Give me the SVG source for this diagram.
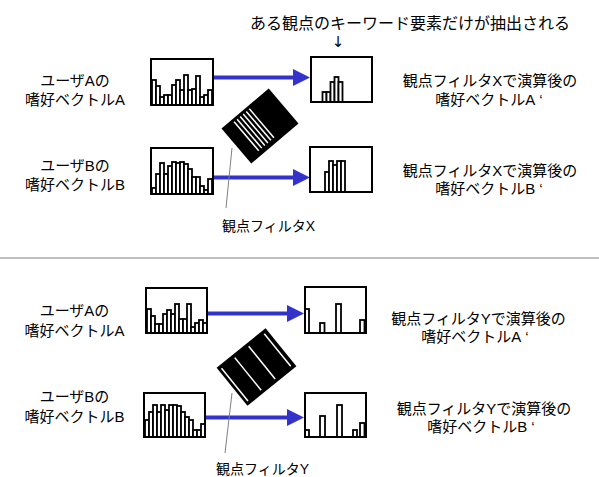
<svg xmlns="http://www.w3.org/2000/svg" width="599" height="477" viewBox="0 0 599 477">
<style>
text{font-family:"Liberation Sans","Noto Sans CJK JP",sans-serif;fill:#000}
.lbl{font-size:15px;text-anchor:middle}
.cap{font-size:16px}
.flt{font-size:14px}
.box{fill:none;stroke:#000;stroke-width:2}
.bg{fill:#fff}
.bar{fill:#fff;stroke:#000;stroke-width:1.8}
.arr{stroke:#3333cc;stroke-width:4;fill:none;marker-end:url(#ah)}
.lead{stroke:#808080;stroke-width:1;fill:none}
.stripe{stroke:#fff;stroke-width:1.5}
</style>
<defs>
<marker id="ah" markerUnits="userSpaceOnUse" markerWidth="17" markerHeight="18" refX="9" refY="8.5" orient="auto">
<path d="M0,0 L17,8.5 L0,17 Z" fill="#3333cc"/>
</marker>
</defs>
<rect width="599" height="477" fill="#fff"/>

<g id="caption">
<text class="cap" x="250" y="28.5">ある観点のキーワード要素だけが抽出される</text>
<text x="338" y="47" text-anchor="middle" style="font-family:'DejaVu Sans',sans-serif;font-size:15px;fill:#000">↓</text>
</g>

<line id="separator" x1="0" y1="258" x2="599" y2="258" stroke="#808080" stroke-width="1"/>

<g id="connectors">
<line class="arr" x1="213" y1="77.5" x2="302" y2="77.5"/>
<line class="arr" x1="213" y1="177.5" x2="302" y2="177.5"/>
<line class="arr" x1="207" y1="313.5" x2="296" y2="313.5"/>
<line class="arr" x1="205" y1="417.5" x2="296" y2="417.5"/>
<line class="lead" x1="232" y1="148" x2="226" y2="208"/>
<line class="lead" x1="232" y1="393" x2="225" y2="453"/>
</g>

<!-- top section -->
<g id="labelA1"><text class="lbl" x="75" y="85.5">ユーザAの</text><text class="lbl" x="75" y="104.5">嗜好ベクトルA</text></g>
<g id="labelB1"><text class="lbl" x="75" y="170.5">ユーザBの</text><text class="lbl" x="75" y="189.5">嗜好ベクトルB</text></g>
<g id="labelA1out"><text class="lbl" x="490" y="85.5">観点フィルタXで演算後の</text><text class="lbl" x="489" y="104.5">嗜好ベクトルA<tspan dx="4">‘</tspan></text></g>
<g id="labelB1out"><text class="lbl" x="490" y="175.5">観点フィルタXで演算後の</text><text class="lbl" x="489" y="194">嗜好ベクトルB<tspan dx="4">‘</tspan></text></g>

<g id="histA1" transform="translate(151,105)">
<rect class="bg" x="0" y="-46" width="62" height="46"/>
<rect class="bar" x="1" y="-25" width="4" height="25"/>
<rect class="bar" x="5" y="-19" width="4" height="19"/>
<rect class="bar" x="9" y="-8" width="4" height="8"/>
<rect class="bar" x="13" y="-10" width="4" height="10"/>
<rect class="bar" x="17" y="-10" width="4" height="10"/>
<rect class="bar" x="21" y="-20" width="4" height="20"/>
<rect class="bar" x="25" y="-25" width="4" height="25"/>
<rect class="bar" x="29" y="-15" width="4" height="15"/>
<rect class="bar" x="33" y="-30" width="4" height="30"/>
<rect class="bar" x="37" y="-15" width="4" height="15"/>
<rect class="bar" x="41" y="-16" width="4" height="16"/>
<rect class="bar" x="45" y="-29" width="4" height="29"/>
<rect class="bar" x="49" y="-8" width="4" height="8"/>
<rect class="bar" x="53" y="-10" width="4" height="10"/>
<rect class="bar" x="57" y="-15" width="4" height="15"/>
<rect class="box" x="0" y="-46" width="62" height="46"/>
</g>

<g id="histB1" transform="translate(151,194)">
<rect class="bg" x="0" y="-46" width="62" height="46"/>
<rect class="bar" x="1" y="-6" width="4" height="6"/>
<rect class="bar" x="5" y="-20" width="4" height="20"/>
<rect class="bar" x="9" y="-31" width="4" height="31"/>
<rect class="bar" x="13" y="-20" width="4" height="20"/>
<rect class="bar" x="17" y="-28" width="4" height="28"/>
<rect class="bar" x="21" y="-32" width="4" height="32"/>
<rect class="bar" x="25" y="-31" width="4" height="31"/>
<rect class="bar" x="29" y="-32" width="4" height="32"/>
<rect class="bar" x="33" y="-30" width="4" height="30"/>
<rect class="bar" x="37" y="-25" width="4" height="25"/>
<rect class="bar" x="41" y="-17" width="4" height="17"/>
<rect class="bar" x="45" y="-17" width="4" height="17"/>
<rect class="bar" x="49" y="-8" width="4" height="8"/>
<rect class="bar" x="53" y="-4" width="4" height="4"/>
<rect class="bar" x="57" y="-15" width="4" height="15"/>
<rect class="box" x="0" y="-46" width="62" height="46"/>
</g>

<g id="histA1out" transform="translate(311,102)">
<rect class="bg" x="0" y="-45" width="61" height="45"/>
<rect class="bar" x="11.5" y="-10" width="4" height="10"/>
<rect class="bar" x="15.5" y="-10" width="4" height="10"/>
<rect class="bar" x="19.5" y="-20" width="4" height="20"/>
<rect class="bar" x="23.5" y="-25" width="4" height="25"/>
<rect class="bar" x="27.5" y="-20" width="4" height="20"/>
<rect class="box" x="0" y="-45" width="61" height="45"/>
</g>

<g id="histB1out" transform="translate(310,192)">
<rect class="bg" x="0" y="-45" width="62" height="45"/>
<rect class="bar" x="15" y="-20" width="4" height="20"/>
<rect class="bar" x="19" y="-31" width="4" height="31"/>
<rect class="bar" x="23" y="-27" width="4" height="27"/>
<rect class="bar" x="27" y="-31" width="4" height="31"/>
<rect class="bar" x="31" y="-31" width="4" height="31"/>
<rect class="box" x="0" y="-45" width="62" height="45"/>
</g>

<g id="filterX" transform="translate(260,126) rotate(-40.4)">
<rect x="-31" y="-23" width="62" height="46" fill="#000"/>
<line class="stripe" x1="-17" y1="-20" x2="-17" y2="18"/>
<line class="stripe" x1="-13" y1="-20" x2="-13" y2="18"/>
<line class="stripe" x1="-9" y1="-20" x2="-9" y2="18"/>
<line class="stripe" x1="-5" y1="-20" x2="-5" y2="18"/>
<line class="stripe" x1="-1" y1="-20" x2="-1" y2="18"/>
<line class="stripe" x1="3" y1="-20" x2="3" y2="18"/>
</g>
<g id="labelFilterX"><text class="flt" x="222" y="230.5">観点フィルタX</text></g>

<!-- bottom section -->
<g id="labelA2"><text class="lbl" x="74.5" y="315.5">ユーザAの</text><text class="lbl" x="74.5" y="335.5">嗜好ベクトルA</text></g>
<g id="labelB2"><text class="lbl" x="74.5" y="401.5">ユーザBの</text><text class="lbl" x="74.5" y="421.5">嗜好ベクトルB</text></g>
<g id="labelA2out"><text class="lbl" x="478.5" y="323.5">観点フィルタYで演算後の</text><text class="lbl" x="475" y="341.5">嗜好ベクトルA<tspan dx="4">‘</tspan></text></g>
<g id="labelB2out"><text class="lbl" x="484" y="413.5">観点フィルタYで演算後の</text><text class="lbl" x="481" y="431.5">嗜好ベクトルB<tspan dx="4">‘</tspan></text></g>

<g id="histA2" transform="translate(146,333)">
<rect class="bg" x="0" y="-45" width="61" height="45"/>
<rect class="bar" x="1" y="-24" width="4" height="24"/>
<rect class="bar" x="5" y="-17" width="4" height="17"/>
<rect class="bar" x="9" y="-9" width="4" height="9"/>
<rect class="bar" x="13" y="-9" width="4" height="9"/>
<rect class="bar" x="17" y="-19" width="4" height="19"/>
<rect class="bar" x="21" y="-23" width="4" height="23"/>
<rect class="bar" x="25" y="-19" width="4" height="19"/>
<rect class="bar" x="29" y="-29" width="4" height="29"/>
<rect class="bar" x="33" y="-14" width="4" height="14"/>
<rect class="bar" x="37" y="-14" width="4" height="14"/>
<rect class="bar" x="41" y="-29" width="4" height="29"/>
<rect class="bar" x="45" y="-6" width="4" height="6"/>
<rect class="bar" x="49" y="-10" width="4" height="10"/>
<rect class="bar" x="53" y="-13" width="4" height="13"/>
<rect class="bar" x="57" y="-10" width="4" height="10"/>
<rect class="box" x="0" y="-45" width="61" height="45"/>
</g>

<g id="histB2" transform="translate(144,437)">
<rect class="bg" x="0" y="-44" width="61" height="44"/>
<rect class="bar" x="1" y="-17" width="4" height="17"/>
<rect class="bar" x="5" y="-25" width="4" height="25"/>
<rect class="bar" x="9" y="-32" width="4" height="32"/>
<rect class="bar" x="13" y="-25" width="4" height="25"/>
<rect class="bar" x="17" y="-32" width="4" height="32"/>
<rect class="bar" x="21" y="-27" width="4" height="27"/>
<rect class="bar" x="25" y="-32" width="4" height="32"/>
<rect class="bar" x="29" y="-32" width="4" height="32"/>
<rect class="bar" x="33" y="-31" width="4" height="31"/>
<rect class="bar" x="37" y="-25" width="4" height="25"/>
<rect class="bar" x="41" y="-20" width="4" height="20"/>
<rect class="bar" x="45" y="-17" width="4" height="17"/>
<rect class="bar" x="49" y="-7" width="4" height="7"/>
<rect class="bar" x="53" y="-7" width="4" height="7"/>
<rect class="bar" x="57" y="-13" width="4" height="13"/>
<rect class="box" x="0" y="-44" width="61" height="44"/>
</g>

<g id="histA2out" transform="translate(305,333)">
<rect class="bg" x="0" y="-46" width="61" height="46"/>
<rect class="bar" x="0" y="-24" width="4" height="24"/>
<rect class="bar" x="15" y="-10" width="4.5" height="10"/>
<rect class="bar" x="31" y="-29" width="5" height="29"/>
<rect class="bar" x="55" y="-13" width="4.5" height="13"/>
<rect class="box" x="0" y="-46" width="61" height="46"/>
</g>

<g id="histB2out" transform="translate(305,437)">
<rect class="bg" x="0" y="-44" width="61" height="44"/>
<rect class="bar" x="0" y="-7" width="4" height="7"/>
<rect class="bar" x="15" y="-21" width="5" height="21"/>
<rect class="bar" x="32" y="-32" width="5" height="32"/>
<rect class="bar" x="48" y="-7" width="4" height="7"/>
<rect class="bar" x="55" y="-14" width="4.5" height="14"/>
<rect class="box" x="0" y="-44" width="61" height="44"/>
</g>

<g id="filterY" transform="translate(256.5,367) rotate(-39)">
<rect x="-31.5" y="-24.5" width="63" height="49" fill="#000"/>
<line class="stripe" x1="-28" y1="-21" x2="-28" y2="21"/>
<line class="stripe" x1="-11" y1="-21" x2="-11" y2="21"/>
<line class="stripe" x1="7" y1="-21" x2="7" y2="21"/>
<line class="stripe" x1="27" y1="-21" x2="27" y2="21"/>
</g>
<g id="labelFilterY"><text class="flt" x="216" y="473.5">観点フィルタY</text></g>
</svg>
